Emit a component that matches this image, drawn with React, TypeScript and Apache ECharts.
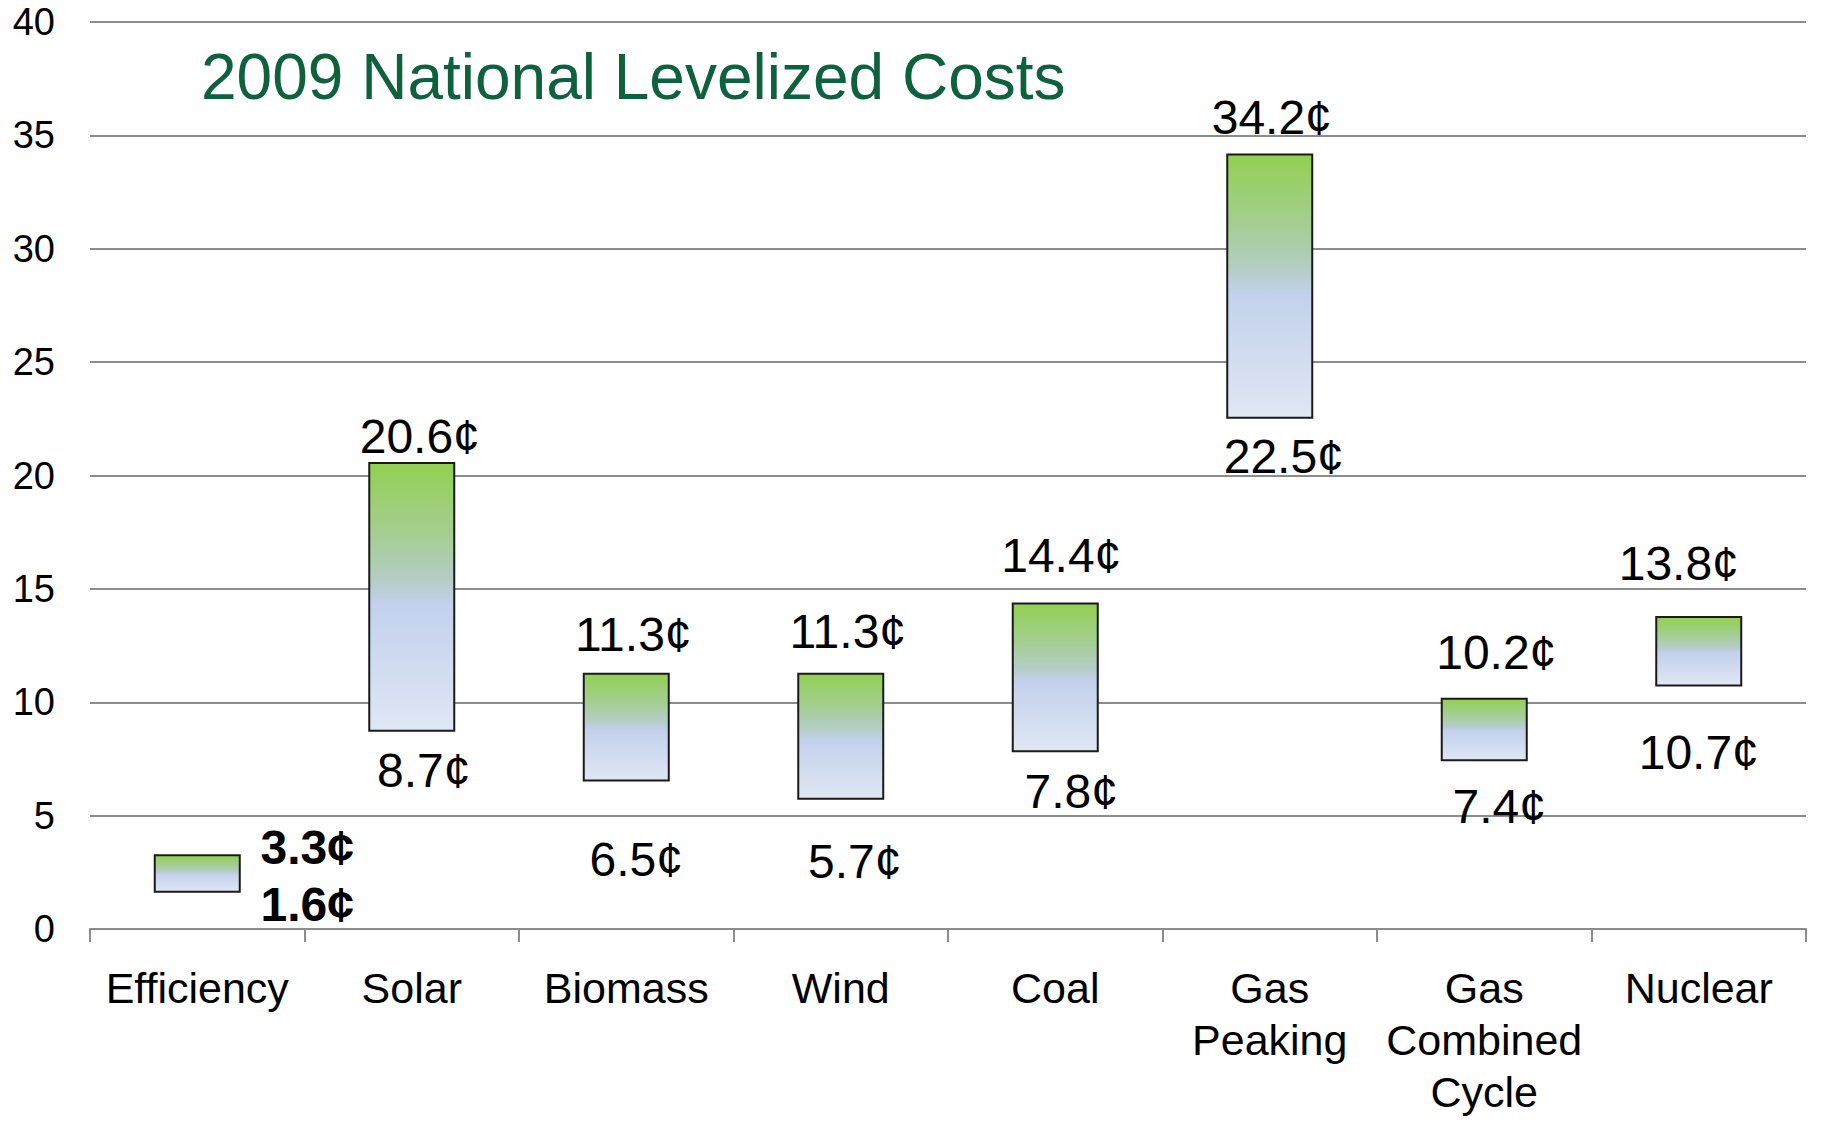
import React, { useEffect, useRef } from "react";
import * as echarts from "echarts";

const categories = [
  "Efficiency",
  "Solar",
  "Biomass",
  "Wind",
  "Coal",
  "Gas\nPeaking",
  "Gas\nCombined\nCycle",
  "Nuclear",
];
const lowValues = [1.6, 8.7, 6.5, 5.7, 7.8, 22.5, 7.4, 10.7];
const highValues = [3.3, 20.6, 11.3, 11.3, 14.4, 34.2, 10.2, 13.8];
const yMin = 0;
const yMax = 40;
const yInterval = 5;
const titleText = "2009 National Levelized Costs";
const boldLabelIndex = [0];

// label nudges (styling, not data)
const topLabelOffsets = [
  [110, 21],
  [8, 3],
  [7, -10],
  [7, -13],
  [6, -19],
  [2, -8],
  [12, -17],
  [-20, -25],
];
const bottomLabelOffsets = [
  [110, -16],
  [12, 11],
  [10, 50],
  [14, 34],
  [16, 11],
  [14, 10],
  [15, 17],
  [0, 38],
];

const FONT = "'Liberation Sans', Arial, Helvetica, sans-serif";

export default function App() {
  const ref = useRef<HTMLDivElement>(null);

  useEffect(() => {
    if (!ref.current) return;
    const chart = echarts.init(ref.current, undefined, { renderer: "svg" });

    const gradient = new echarts.graphic.LinearGradient(0, 0, 0, 1, [
      { offset: 0, color: "#92D050" },
      { offset: 0.28, color: "#A5CE96" },
      { offset: 0.44, color: "#B5CDC6" },
      { offset: 0.53, color: "#C2D1EC" },
      { offset: 1, color: "#E0E7F4" },
    ]);

    const baseData = lowValues.map((v, i) => ({
      value: v,
      label: {
        offset: bottomLabelOffsets[i],
        fontWeight: boldLabelIndex.includes(i) ? "bold" : "normal",
      },
    }));
    const rangeData = highValues.map((h, i) => ({
      value: +(h - lowValues[i]).toFixed(2),
      label: {
        offset: topLabelOffsets[i],
        fontWeight: boldLabelIndex.includes(i) ? "bold" : "normal",
      },
    }));

    const valueLabel = {
      show: true,
      distance: 4,
      fontSize: 48,
      lineHeight: 48,
      color: "#000",
      fontFamily: FONT,
    };

    chart.setOption({
      animation: false,
      backgroundColor: "#ffffff",
      title: {
        text: titleText,
        left: 201,
        top: 45,
        padding: 0,
        textStyle: {
          fontSize: 64,
          lineHeight: 64,
          fontWeight: "normal",
          color: "#0D623D",
          fontFamily: FONT,
        },
      },
      grid: { left: 90, right: 27, top: 22, bottom: 202, containLabel: false },
      xAxis: {
        type: "category",
        data: categories,
        axisLine: { show: true, lineStyle: { color: "#8C8C8C", width: 2 } },
        axisTick: {
          show: true,
          length: 13,
          alignWithLabel: false,
          lineStyle: { color: "#8C8C8C", width: 2 },
        },
        axisLabel: {
          fontSize: 43,
          lineHeight: 52,
          margin: 33,
          color: "#000",
          fontFamily: FONT,
          interval: 0,
        },
      },
      yAxis: {
        type: "value",
        min: yMin,
        max: yMax,
        interval: yInterval,
        axisLine: { show: false },
        axisTick: { show: false },
        axisLabel: {
          fontSize: 38,
          margin: 35,
          color: "#000",
          fontFamily: FONT,
        },
        splitLine: { lineStyle: { color: "#8C8C8C", width: 2 } },
      },
      series: [
        {
          type: "bar",
          stack: "range",
          barWidth: 87,
          data: baseData,
          itemStyle: { color: "rgba(0,0,0,0)", borderWidth: 0 },
          emphasis: { disabled: true },
          silent: true,
          label: {
            ...valueLabel,
            position: "insideTop",
            formatter: (p: any) => lowValues[p.dataIndex] + "¢",
          },
        },
        {
          type: "bar",
          stack: "range",
          barWidth: 87,
          data: rangeData,
          itemStyle: { color: gradient, borderColor: "#1A1A1A", borderWidth: 2 },
          emphasis: { disabled: true },
          silent: true,
          label: {
            ...valueLabel,
            position: "top",
            formatter: (p: any) => highValues[p.dataIndex] + "¢",
          },
        },
      ],
    });

    return () => chart.dispose();
  }, []);

  return (
    <div
      ref={ref}
      style={{ position: "fixed", left: 0, top: 0, width: 1833, height: 1131 }}
    />
  );
}
